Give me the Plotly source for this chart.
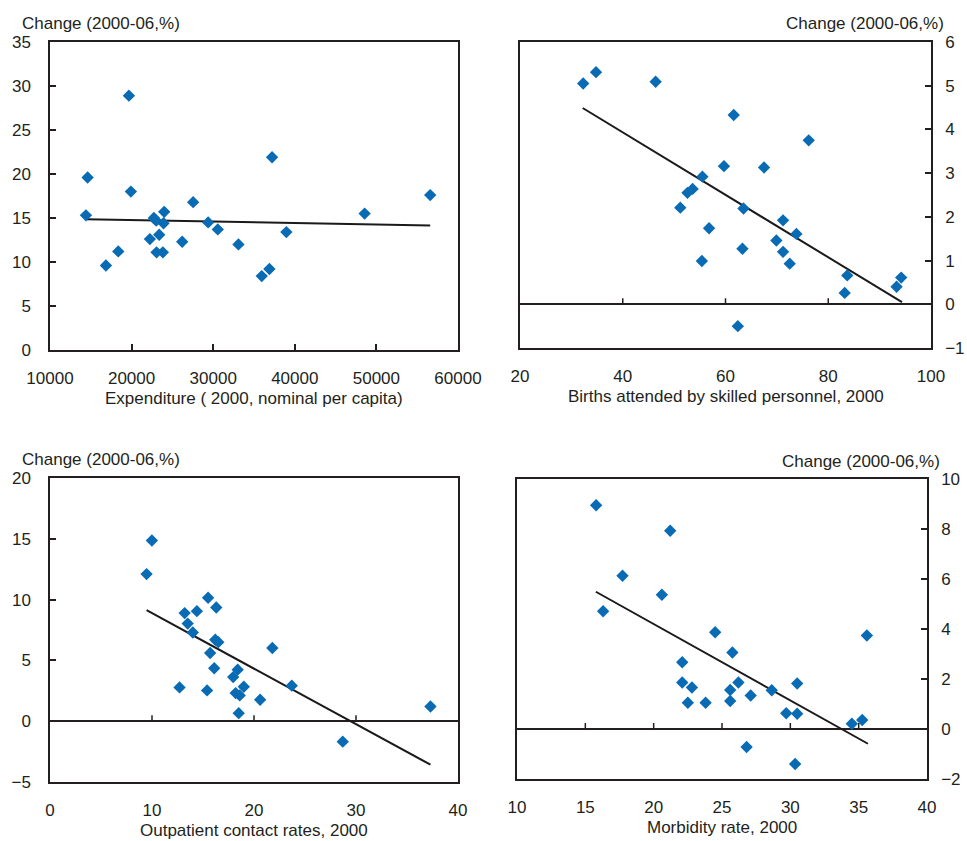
import plotly.graph_objects as go

# ---- Panel A: health expenditure vs change ----
exp_x = [14406, 14610, 16854, 18364, 19670, 19914, 22240, 22730, 23015, 23382,
         23056, 23831, 23994, 23913, 26198, 27544, 29380, 30563, 33093, 35949,
         36887, 37214, 38968, 48556, 56594]
exp_y = [15.3, 19.6, 9.6, 11.2, 28.9, 18.0, 12.6, 15.0, 14.7, 13.1,
         11.1, 11.1, 15.7, 14.4, 12.3, 16.8, 14.5, 13.7, 12.0, 8.4,
         9.2, 21.9, 13.4, 15.5, 17.6]
exp_fit_x = [14406, 56594]
exp_fit_y = [14.87, 14.15]

# ---- Panel B: births attended by skilled personnel ----
birth_x = [32.3, 34.8, 46.4, 61.6, 76.2, 59.7, 67.5, 55.5, 53.6, 52.6,
           51.2, 63.5, 56.8, 71.2, 73.8, 69.9, 63.3, 71.2, 55.4, 72.5,
           83.7, 83.2, 93.3, 94.2, 62.4]
birth_y = [5.05, 5.31, 5.09, 4.33, 3.75, 3.16, 3.13, 2.92, 2.64, 2.55,
           2.21, 2.19, 1.74, 1.92, 1.61, 1.46, 1.27, 1.20, 0.99, 0.93,
           0.66, 0.26, 0.40, 0.61, -0.50]
birth_fit_x = [32.2, 94.35]
birth_fit_y = [4.49, 0.05]

# ---- Panel C: outpatient contact rates ----
outp_x = [9.99, 9.47, 15.5, 16.3, 13.2, 14.4, 13.5, 14.0, 16.2, 16.5,
          15.7, 21.8, 16.1, 18.4, 17.96, 23.7, 19.0, 12.7, 15.4, 18.2,
          18.6, 20.6, 18.5, 37.3, 28.7]
outp_y = [14.86, 12.10, 10.15, 9.35, 8.89, 9.05, 8.03, 7.29, 6.7, 6.5,
          5.61, 6.02, 4.35, 4.24, 3.63, 2.92, 2.83, 2.78, 2.53, 2.31,
          2.12, 1.76, 0.66, 1.21, -1.68]
outp_fit_x = [9.47, 37.3]
outp_fit_y = [9.13, -3.58]

# ---- Panel D: morbidity rate ----
morb_x = [15.79, 21.21, 17.72, 20.6, 16.3, 24.5, 35.6, 25.76, 22.09, 22.09,
          22.8, 26.2, 30.5, 25.6, 28.64, 27.1, 22.5, 23.8, 25.6, 29.7,
          30.5, 34.5, 35.26, 26.8, 30.35]
morb_y = [8.95, 7.93, 6.13, 5.37, 4.71, 3.87, 3.74, 3.06, 2.67, 1.86,
          1.66, 1.86, 1.82, 1.56, 1.55, 1.34, 1.05, 1.05, 1.12, 0.63,
          0.61, 0.21, 0.36, -0.72, -1.40]
morb_fit_x = [15.77, 35.68]
morb_fit_y = [5.49, -0.59]

y_title = "Change (2000-06,%)"
x_titles = ["Expenditure ( 2000, nominal per capita)",
            "Births attended by skilled personnel, 2000",
            "Outpatient contact rates, 2000",
            "Morbidity rate, 2000"]

W, H = 967, 841
FONT = "Liberation Sans, Arial, sans-serif"
FS = 17
TXT = "#231f20"
BLUE = "#0a6bb5"
LINE = "#231f20"

# plot-area boxes in pixels: (left, right, top, bottom)
boxes = [(50, 458, 42, 350), (520, 931, 42, 348),
         (50, 458, 478, 782), (517, 927, 479, 779)]
x_ranges = [[10000, 60000], [20, 100], [0, 40], [10, 40]]
y_ranges = [[0, 35], [-1, 6], [-5, 20], [-2, 10]]
x_dticks = [10000, 20, 10, 5]
y_dticks = [5, 1, 5, 2]
y_side = ["left", "right", "left", "right"]
data = [(exp_x, exp_y, exp_fit_x, exp_fit_y),
        (birth_x, birth_y, birth_fit_x, birth_fit_y),
        (outp_x, outp_y, outp_fit_x, outp_fit_y),
        (morb_x, morb_y, morb_fit_x, morb_fit_y)]

fig = go.Figure()
layout = {}
shapes = []
annotations = []

for i in range(4):
    n = "" if i == 0 else str(i + 1)
    xa, ya = "x" + n, "y" + n
    l, r, t, b = boxes[i]
    xr, yr = x_ranges[i], y_ranges[i]
    px, py, fx, fy = data[i]

    fig.add_trace(go.Scatter(
        x=fx, y=fy, mode="lines", xaxis=xa, yaxis=ya,
        line=dict(color="#1a1a1a", width=2), showlegend=False))
    fig.add_trace(go.Scatter(
        x=px, y=py, mode="markers", xaxis=xa, yaxis=ya,
        marker=dict(symbol="diamond", size=9.5, color=BLUE,
                    line=dict(width=0)),
        showlegend=False))

    has_zero = yr[0] < 0
    layout["xaxis" + n] = dict(
        domain=[l / W, r / W], anchor=ya, range=xr, dtick=x_dticks[i],
        tick0=xr[0], tickformat="d", showgrid=False, zeroline=False,
        showline=True, linecolor=LINE, linewidth=1.5, mirror=True,
        ticks="" if has_zero else "inside", ticklen=6, tickwidth=1.5,
        tickcolor=LINE, ticklabelstandoff=12,
        tickfont=dict(family=FONT, size=FS, color=TXT))
    layout["yaxis" + n] = dict(
        domain=[1 - b / H, 1 - t / H], anchor=xa, range=yr,
        dtick=y_dticks[i], tick0=yr[0], side=y_side[i],
        showgrid=False, zeroline=has_zero, zerolinecolor=LINE,
        zerolinewidth=1.5, showline=True, linecolor=LINE, linewidth=1.5,
        mirror=True, ticks="inside", ticklen=6, tickwidth=1.5,
        tickcolor=LINE,
        ticklabelstandoff=14 if y_side[i] == "left" else 9,
        tickfont=dict(family=FONT, size=FS, color=TXT))

    # x ticks sitting on the zero line, pointing upward
    if has_zero:
        tick_len = 6 / (b - t) * (yr[1] - yr[0])
        v = xr[0] + x_dticks[i]
        while v < xr[1]:
            shapes.append(dict(type="line", xref=xa, yref=ya,
                               x0=v, x1=v, y0=0, y1=tick_len,
                               line=dict(color=LINE, width=1.5)))
            v += x_dticks[i]

    # axis titles
    annotations.append(dict(
        text=x_titles[i], xref="paper", yref="paper",
        x=(l + r) / 2 / W, y=1 - (b + 48) / H, xanchor="center",
        yanchor="middle", showarrow=False,
        font=dict(family=FONT, size=FS, color=TXT)))
    if y_side[i] == "left":
        annotations.append(dict(
            text=y_title, xref="paper", yref="paper",
            x=(l - 30) / W, y=1 - (t - 19) / H, xanchor="left",
            yanchor="middle", showarrow=False,
            font=dict(family=FONT, size=FS, color=TXT)))
    else:
        annotations.append(dict(
            text=y_title, xref="paper", yref="paper",
            x=(r + 15) / W, y=1 - (t - 18) / H, xanchor="right",
            yanchor="middle", showarrow=False,
            font=dict(family=FONT, size=FS, color=TXT)))

fig.update_layout(
    width=W, height=H, margin=dict(l=0, r=0, t=0, b=0, autoexpand=False),
    paper_bgcolor="white", plot_bgcolor="white",
    shapes=shapes, annotations=annotations, **layout)

fig.write_html("out.html")
